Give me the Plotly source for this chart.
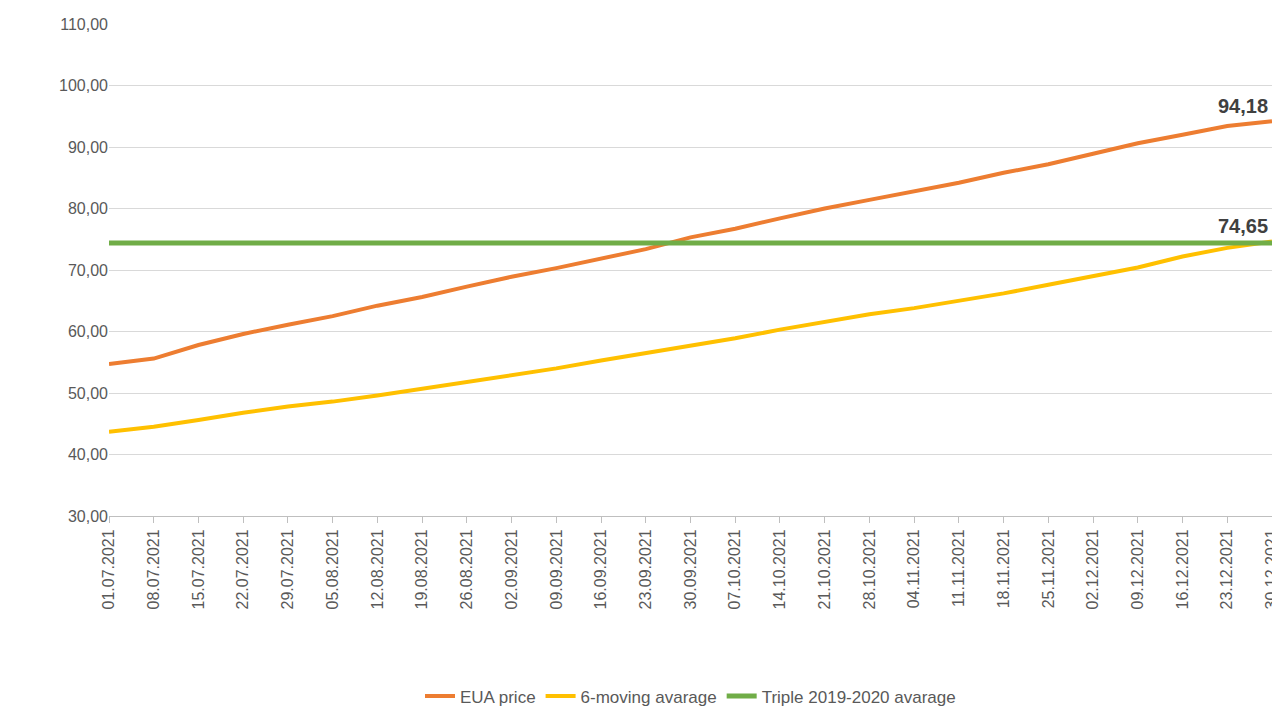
import plotly.graph_objects as go

dates = ["01.07.2021", "08.07.2021", "15.07.2021", "22.07.2021", "29.07.2021", "05.08.2021",
         "12.08.2021", "19.08.2021", "26.08.2021", "02.09.2021", "09.09.2021", "16.09.2021",
         "23.09.2021", "30.09.2021", "07.10.2021", "14.10.2021", "21.10.2021", "28.10.2021",
         "04.11.2021", "11.11.2021", "18.11.2021", "25.11.2021", "02.12.2021", "09.12.2021",
         "16.12.2021", "23.12.2021", "30.12.2021"]

eua_price = [54.7, 55.6, 57.8, 59.6, 61.1, 62.5, 64.2, 65.6, 67.3, 68.9, 70.3, 71.9, 73.4,
             75.3, 76.7, 78.4, 80.0, 81.4, 82.8, 84.2, 85.8, 87.2, 88.9, 90.6, 92.0, 93.4, 94.18]

moving_avg = [43.7, 44.5, 45.6, 46.8, 47.8, 48.6, 49.6, 50.7, 51.9, 52.9, 54.0, 55.3, 56.5,
              57.7, 58.9, 60.3, 61.6, 62.8, 63.8, 65.0, 66.2, 67.6, 69.0, 70.4, 72.2, 73.6, 74.65]

triple_avg = [74.4] * len(dates)

fig = go.Figure()
fig.add_trace(go.Scatter(x=dates, y=eua_price, mode="lines", name="EUA price",
                         line=dict(color="#ED7D31", width=4)))
fig.add_trace(go.Scatter(x=dates, y=moving_avg, mode="lines", name="6-moving avarage",
                         line=dict(color="#FFC000", width=4)))
fig.add_trace(go.Scatter(x=dates, y=triple_avg, mode="lines", name="Triple 2019-2020 avarage",
                         line=dict(color="#70AD47", width=5)))

for val in [eua_price[-1], moving_avg[-1]]:
    fig.add_annotation(x=dates[-1], y=val, text="<b>" + f"{val:.2f}".replace(".", ",") + "</b>",
                       showarrow=False, yanchor="bottom", xanchor="right", yshift=2, xshift=-2,
                       font=dict(size=20, color="#404040"))

fig.update_layout(
    width=1280, height=714,
    plot_bgcolor="white", paper_bgcolor="white",
    separators=",.",
    font=dict(family="Liberation Sans", size=16, color="#595959"),
    margin=dict(l=101, r=8, t=12, b=190),
    xaxis=dict(type="category", tickangle=-90, showgrid=False, showline=True,
               linecolor="#BFBFBF", ticks="outside", tickcolor="#BFBFBF", ticklen=6,
               range=[0, len(dates) - 1]),
    yaxis=dict(range=[30, 110], dtick=10, tickformat=".2f", gridcolor="#D9D9D9",
               zeroline=False),
    legend=dict(orientation="h", x=0.5, xanchor="center", y=-0.33, yanchor="top",
                font=dict(size=17)),
)

fig.write_html("out.html")
